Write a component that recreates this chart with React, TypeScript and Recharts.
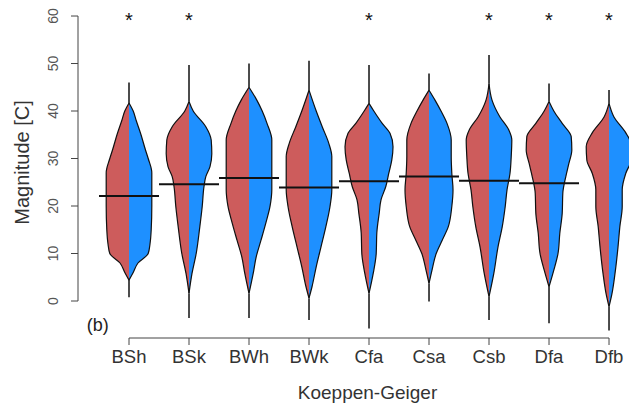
import { Area, ComposedChart, ReferenceDot, ReferenceLine, XAxis, YAxis } from 'recharts';

const climates = ['BSh', 'BSk', 'BWh', 'BWk', 'Cfa', 'Csa', 'Csb', 'Dfa', 'Dfb'];
const starred = ['BSh', 'BSk', 'Cfa', 'Csb', 'Dfa', 'Dfb'];
const medians = [22.1, 24.6, 25.9, 23.9, 25.2, 26.2, 25.3, 24.8, 23.7];
const tailLow = [0.8, -3.6, -3.6, -4, -5.8, -0.1, -4, -4.7, -6.2];
const tailHigh = [46, 49.7, 50, 50.6, 49.7, 47.9, 51.8, 45.8, 44.4];
const yTicks = [0, 10, 20, 30, 40, 50, 60];

// violin outlines: magnitude levels and half width (in category units)
const bshMag = [4.4, 6, 8, 10, 12, 15, 20, 25, 27, 30, 32, 35, 38, 40, 41.7];
const bshWidth = [0, 0.07, 0.15, 0.32, 0.35, 0.37, 0.38, 0.38, 0.38, 0.32, 0.27, 0.2, 0.12, 0.07, 0];
const bskMag = [1.6, 5.8, 10, 15.6, 19.9, 24.1, 26.2, 28.3, 31, 33.9, 36.7, 40, 42];
const bskWidth = [0, 0.05, 0.12, 0.18, 0.22, 0.25, 0.28, 0.35, 0.38, 0.37, 0.28, 0.07, 0];
const bwhMag = [1.6, 5.8, 9.3, 12.8, 16.4, 19.9, 23.4, 26.9, 30.4, 33.9, 37.4, 40, 42.3, 45];
const bwhWidth = [0, 0.07, 0.12, 0.2, 0.28, 0.35, 0.38, 0.38, 0.38, 0.38, 0.3, 0.22, 0.13, 0];
const bwkMag = [0.6, 3, 7.2, 11.4, 15.6, 19.9, 23.4, 26.9, 30.4, 33.2, 36.7, 40, 44.4];
const bwkWidth = [0, 0.05, 0.12, 0.2, 0.28, 0.35, 0.38, 0.38, 0.38, 0.33, 0.22, 0.12, 0];
const cfaMag = [1.6, 5.8, 10, 14.3, 18.5, 21.3, 24.1, 26.9, 29.7, 32.5, 35.3, 37.4, 40, 41.6];
const cfaWidth = [0, 0.07, 0.12, 0.13, 0.17, 0.2, 0.28, 0.33, 0.38, 0.4, 0.35, 0.22, 0.08, 0];
const csaMag = [3.7, 6.5, 10, 12.8, 15.6, 19.9, 23.4, 26.9, 30.4, 33.9, 37.4, 40, 42.3, 44.4];
const csaWidth = [0, 0.05, 0.12, 0.22, 0.32, 0.38, 0.4, 0.38, 0.37, 0.37, 0.3, 0.2, 0.1, 0];
const csbMag = [0.9, 5.8, 11.4, 15.6, 19.9, 23.4, 26.9, 30.4, 33.9, 36, 38.8, 42.3, 45.8];
const csbWidth = [0, 0.08, 0.15, 0.22, 0.27, 0.3, 0.35, 0.37, 0.38, 0.33, 0.18, 0.05, 0];
const dfaMag = [3, 6.5, 10, 14.3, 18.5, 22.7, 26.2, 28.9, 31.8, 34.6, 37.4, 40, 42];
const dfaWidth = [0, 0.08, 0.15, 0.18, 0.22, 0.23, 0.28, 0.33, 0.38, 0.37, 0.22, 0.08, 0];
const dfbMag = [-1.2, 1.6, 5.8, 11.4, 15.6, 19.9, 23.4, 26.9, 29.7, 32.5, 35.4, 38.8, 41.6];
const dfbWidth = [0, 0.05, 0.1, 0.15, 0.18, 0.22, 0.22, 0.28, 0.37, 0.38, 0.28, 0.08, 0];

const mags = [bshMag, bskMag, bwhMag, bwkMag, cfaMag, csaMag, csbMag, dfaMag, dfbMag];
const widths = [bshWidth, bskWidth, bwhWidth, bwkWidth, cfaWidth, csaWidth, csbWidth, dfaWidth, dfbWidth];

const RED = '#CD5C5C';
const BLUE = '#1E90FF';
const AXIS = '#444';
const X_MIN = 0.15;
const Y_MIN = -7.79;

type Row = { mag: number; [key: string]: number };

const rows: Row[] = (() => {
  const byMag = new Map<number, Row>();
  climates.forEach((c, i) => {
    mags[i].forEach((m, j) => {
      if (!byMag.has(m)) byMag.set(m, { mag: m });
      const row = byMag.get(m)!;
      row[`${c}_L`] = i + 1 - widths[i][j];
      row[`${c}_R`] = i + 1 + widths[i][j];
    });
  });
  return [...byMag.values()].sort((a, b) => a.mag - b.mag);
})();

function YTick({ x, y, payload }: any) {
  const cx = x - 16;
  return (
    <text x={cx} y={y} transform={`rotate(-90, ${cx}, ${y})`} textAnchor="middle" dominantBaseline="central" fontSize={14} fill="#555">
      {payload.value}
    </text>
  );
}

function YTitle({ viewBox }: any) {
  const cx = viewBox.x + 22;
  const cy = viewBox.y + viewBox.height / 2 - 9;
  return (
    <text x={cx} y={cy} transform={`rotate(-90, ${cx}, ${cy})`} textAnchor="middle" dominantBaseline="central" fontSize={20} fill="#333">
      Magnitude [C]
    </text>
  );
}

function XTitle({ viewBox }: any) {
  return (
    <text x={viewBox.x + viewBox.width / 2 + 14} y={viewBox.y + 54} textAnchor="middle" dominantBaseline="central" fontSize={19} fill="#333">
      Koeppen-Geiger
    </text>
  );
}

export default function App() {
  return (
    <div style={{ width: 629, height: 404, background: '#fff' }}>
      <style>{'body { margin: 0; }'}</style>
      <ComposedChart
        width={629}
        height={404}
        data={rows}
        layout="vertical"
        margin={{ top: 5, right: 0, left: 0, bottom: 0 }}
        style={{ fontFamily: '"Liberation Sans", Arial, sans-serif' }}
      >
        <XAxis
          type="number"
          domain={[X_MIN, 9.333]}
          allowDataOverflow
          ticks={[1, 2, 3, 4, 5, 6, 7, 8, 9]}
          interval={0}
          tickFormatter={(v: number) => climates[v - 1]}
          axisLine={false}
          tickLine={{ stroke: AXIS }}
          tickSize={7}
          tickMargin={5}
          tick={{ fill: '#333', fontSize: 18.5 }}
          height={66}
          label={<XTitle />}
        />
        <YAxis
          type="number"
          dataKey="mag"
          domain={[Y_MIN, 62.32]}
          reversed
          allowDataOverflow
          ticks={yTicks}
          interval={0}
          axisLine={false}
          tickLine={{ stroke: AXIS }}
          tickSize={7}
          tick={<YTick />}
          width={78}
          label={<YTitle />}
        />
        {climates.map((c, i) => (
          <Area
            key={`${c}_L`}
            dataKey={`${c}_L`}
            baseValue={i + 1}
            type="monotone"
            connectNulls
            fill={RED}
            fillOpacity={1}
            stroke="#111"
            strokeWidth={1.2}
            dot={false}
            activeDot={false}
            isAnimationActive={false}
          />
        ))}
        {climates.map((c, i) => (
          <Area
            key={`${c}_R`}
            dataKey={`${c}_R`}
            baseValue={i + 1}
            type="monotone"
            connectNulls
            fill={BLUE}
            fillOpacity={1}
            stroke="#111"
            strokeWidth={1.2}
            dot={false}
            activeDot={false}
            isAnimationActive={false}
          />
        ))}
        {climates.map((c, i) => (
          <ReferenceLine
            key={`lo-${c}`}
            segment={[{ x: i + 1, y: tailLow[i] }, { x: i + 1, y: mags[i][0] }]}
            stroke="#111"
            strokeWidth={1.5}
          />
        ))}
        {climates.map((c, i) => (
          <ReferenceLine
            key={`hi-${c}`}
            segment={[{ x: i + 1, y: mags[i][mags[i].length - 1] }, { x: i + 1, y: tailHigh[i] }]}
            stroke="#111"
            strokeWidth={1.5}
          />
        ))}
        {climates.map((c, i) => (
          <ReferenceLine
            key={`med-${c}`}
            segment={[{ x: i + 0.5, y: medians[i] }, { x: i + 1.5, y: medians[i] }]}
            stroke="#111"
            strokeWidth={2}
          />
        ))}
        <ReferenceLine segment={[{ x: X_MIN, y: 0 }, { x: X_MIN, y: 60 }]} stroke={AXIS} strokeWidth={1} ifOverflow="visible" />
        <ReferenceLine segment={[{ x: 1, y: Y_MIN }, { x: 9, y: Y_MIN }]} stroke={AXIS} strokeWidth={1} ifOverflow="visible" />
        {starred.map((c) => (
          <ReferenceDot
            key={`star-${c}`}
            x={climates.indexOf(c) + 1}
            y={60}
            r={0}
            shape={(p: any) => (
              <text x={p.cx} y={p.cy + 11} textAnchor="middle" fontSize={20} fill="#111">
                *
              </text>
            )}
          />
        ))}
        <ReferenceDot
          x={0.48}
          y={-5}
          r={0}
          shape={(p: any) => (
            <text x={p.cx} y={p.cy} textAnchor="middle" dominantBaseline="central" fontSize={18} fill="#222">
              (b)
            </text>
          )}
        />
      </ComposedChart>
    </div>
  );
}
